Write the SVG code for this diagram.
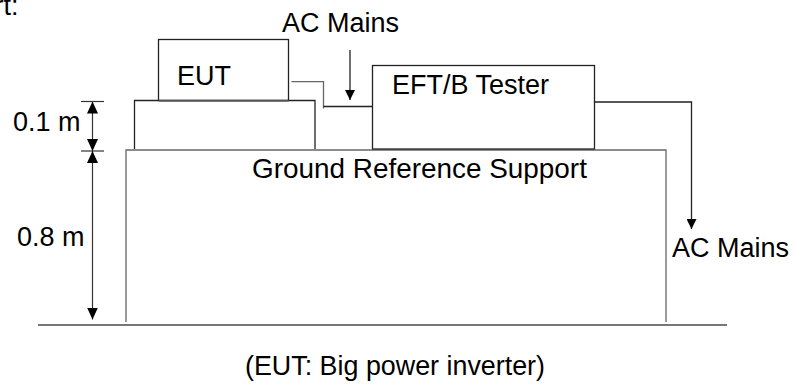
<svg xmlns="http://www.w3.org/2000/svg" width="794" height="385" viewBox="0 0 794 385">
<style>
text{font-family:"Liberation Sans",Arial,sans-serif;font-size:27px;fill:#000}
.big{font-size:27.9px}
.ln{fill:none;stroke:#222;stroke-width:1.3}
.gl{fill:none;stroke:#666;stroke-width:1.3}
.dim{fill:none;stroke:#333;stroke-width:1.2}
</style>
<defs>
<marker id="ah" viewBox="0 0 10 10" refX="10" refY="5" markerWidth="10" markerHeight="10" markerUnits="userSpaceOnUse" orient="auto">
<path d="M0,0 L10,5 L0,10 Z" fill="#000"/>
</marker>
<marker id="ahd" viewBox="0 0 12 11" refX="12" refY="5.5" markerWidth="12" markerHeight="11" markerUnits="userSpaceOnUse" orient="auto-start-reverse">
<path d="M0,0 L12,5.5 L0,11 Z" fill="#000"/>
</marker>
</defs>
<text x="18.5" y="15" text-anchor="end">rt:</text>
<g id="ground">
<line x1="38" y1="325" x2="727" y2="325" stroke="#777" stroke-width="2"/>
</g>
<g id="ground-reference-support">
<polyline class="gl" points="126,322 126,150 666,150 666,322"/>
<text class="big" x="252" y="178">Ground Reference Support</text>
</g>
<g id="insulating-support">
<polyline class="ln" points="134.5,149 134.5,100.5 315,100.5 315,149"/>
</g>
<g id="eut">
<rect class="ln" x="158.5" y="39.5" width="130" height="61"/>
<line x1="158.5" y1="101" x2="288.5" y2="101" stroke="#666" stroke-width="1.5"/>
<text x="177" y="85">EUT</text>
</g>
<g id="eft-tester">
<rect class="ln" x="372.5" y="65.5" width="222" height="83.5"/>
<text x="392" y="94">EFT/B Tester</text>
</g>
<g id="ac-mains-top">
<text x="282" y="32">AC Mains</text>
</g>
<g id="ac-mains-right">
<text x="672" y="257">AC Mains</text>
</g>
<g id="dimensions">
<line class="dim" x1="81" y1="101.5" x2="104" y2="101.5"/>
<line class="dim" x1="81" y1="151" x2="104" y2="151"/>
<line class="dim" x1="92.5" y1="101.5" x2="92.5" y2="151" marker-start="url(#ahd)" marker-end="url(#ahd)"/>
<line class="dim" x1="92.5" y1="151" x2="92.5" y2="319.5" marker-start="url(#ahd)" marker-end="url(#ahd)"/>
<text x="13" y="131">0.1 m</text>
<text x="17" y="246">0.8 m</text>
</g>
<g id="connectors">
<polyline class="gl" points="291.5,81.7 323.5,81.7 323.5,108.5"/>
<line class="ln" x1="323.5" y1="106.5" x2="372.5" y2="106.5"/>
<line class="ln" x1="350" y1="50" x2="350" y2="100" marker-end="url(#ah)"/>
<polyline class="ln" points="595,102 691.5,102 691.5,229" marker-end="url(#ah)"/>
</g>
<text x="245" y="375" textLength="300" lengthAdjust="spacingAndGlyphs">(EUT: Big power inverter)</text>
</svg>
